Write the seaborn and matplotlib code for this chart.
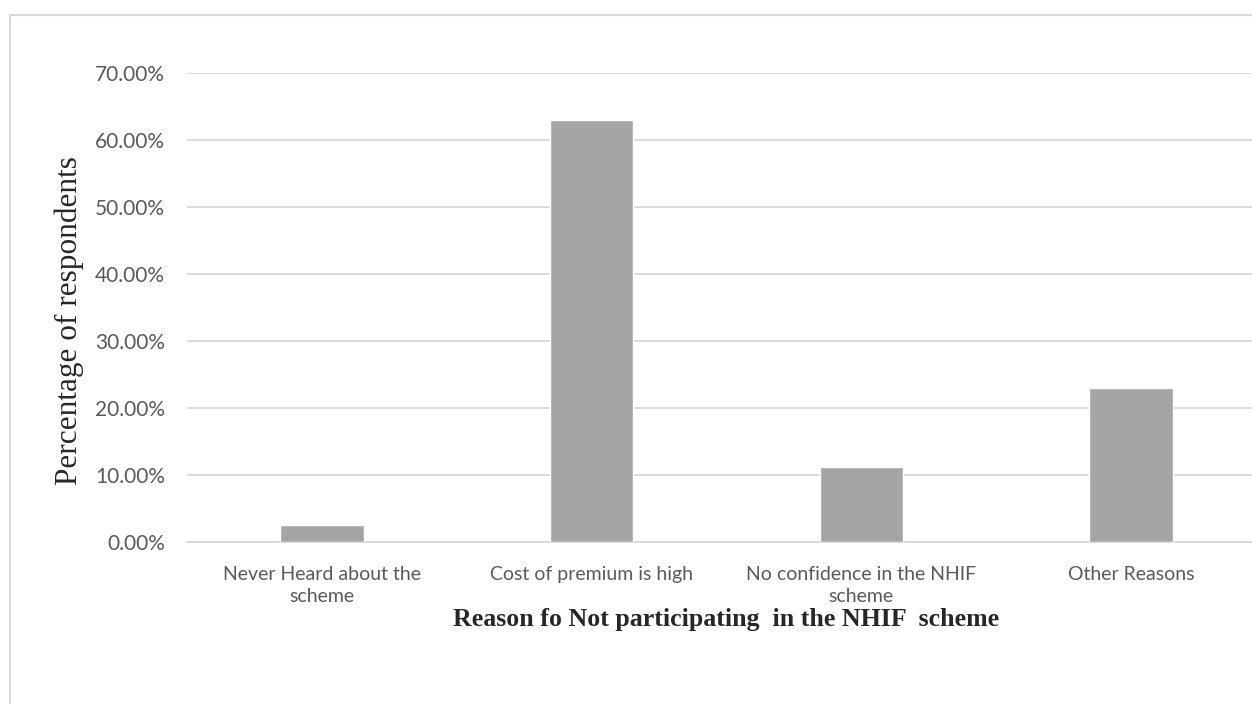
import matplotlib
matplotlib.use("Agg")
import matplotlib.pyplot as plt
import matplotlib.patches as patches
from matplotlib.ticker import PercentFormatter
import seaborn as sns
import pandas as pd

reasons = [
    "Never Heard about the\nscheme",
    "Cost of premium is high",
    "No confidence in the NHIF\nscheme",
    "Other Reasons",
]
percentages = [2.6, 63.0, 11.2, 23.0]

x_title = "Reason fo Not participating  in the NHIF  scheme"
y_title = "Percentage of respondents"

df = pd.DataFrame({"reason": reasons, "pct": percentages})

sns.set_style("white")
plt.rcParams["font.family"] = ["Lato", "DejaVu Sans"]

fig = plt.figure(figsize=(12.52, 7.04), dpi=100)
ax = fig.add_axes([0.1494, 0.2301, 0.8618, 0.6662])

sns.barplot(data=df, x="reason", y="pct", color="#a5a5a5", width=0.31,
            saturation=1, ax=ax, zorder=3)

ax.set_ylim(0, 70)
ax.set_yticks(range(0, 71, 10))
ax.yaxis.set_major_formatter(PercentFormatter(decimals=2))
ax.grid(True, axis="y", color="#d9d9d9", linewidth=1.3, zorder=0)
ax.grid(False, axis="x")
for s in ["top", "right", "left"]:
    ax.spines[s].set_visible(False)
ax.spines["bottom"].set_color("#d9d9d9")
ax.spines["bottom"].set_linewidth(1.3)
ax.tick_params(axis="both", length=0, labelcolor="#595959")
ax.tick_params(axis="y", pad=16, labelsize=15)
ax.tick_params(axis="x", pad=17, labelsize=14)
for lbl in ax.get_xticklabels():
    lbl.set_linespacing(1.4)

ax.set_xlabel(x_title, family="Liberation Serif", fontweight="bold",
              fontsize=18.6, color="#262626", labelpad=2)
ax.set_ylabel(y_title, family="Liberation Serif", fontsize=22.5,
              color="#262626")
ax.yaxis.set_label_coords(-0.0955, 0.473)

fig.patches.append(patches.Rectangle((10 / 1252, -0.1), 1.2, 1 - 15 / 704 + 0.1,
                                     transform=fig.transFigure, fill=False,
                                     edgecolor="#d9d9d9", linewidth=1.5))

fig.savefig("out.png", dpi=100, facecolor="white")
